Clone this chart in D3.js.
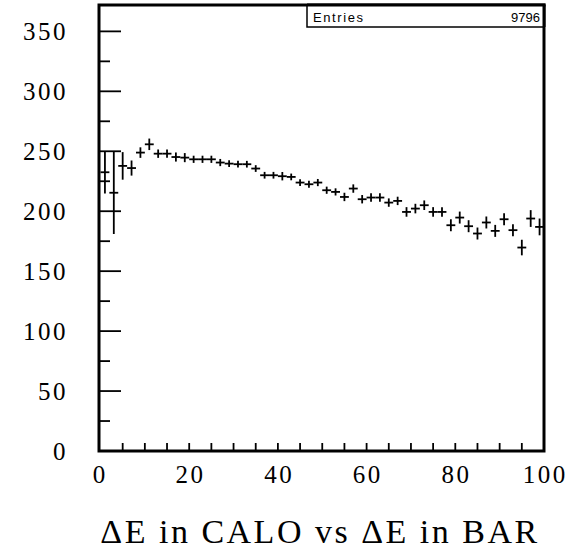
<!DOCTYPE html>
<html>
<head>
<meta charset="utf-8">
<script src="https://cdn.jsdelivr.net/npm/d3@7"></script>
<style>
  html, body { margin: 0; padding: 0; background: #fff; }
  svg { display: block; }
</style>
</head>
<body>
<svg id="chart" width="571" height="555"></svg>
<script>
// Profile of ΔE in CALO vs ΔE in BAR: 50 bins of width 2 over [0, 100]
const binCenters = [1, 3, 5, 7, 9, 11, 13, 15, 17, 19,
  21, 23, 25, 27, 29, 31, 33, 35, 37, 39,
  41, 43, 45, 47, 49, 51, 53, 55, 57, 59,
  61, 63, 65, 67, 69, 71, 73, 75, 77, 79,
  81, 83, 85, 87, 89, 91, 93, 95, 97, 99];
const binWidth = 2;
const meanValues = [232.5, 215.4, 237.8, 236.0, 248.9, 255.8, 248.0, 248.0, 245.2, 244.7,
  243.3, 243.3, 243.3, 240.6, 239.7, 239.2, 239.2, 235.6, 230.0, 230.0,
  229.2, 228.6, 223.9, 222.5, 223.9, 217.5, 216.1, 211.9, 218.9, 210.0,
  211.4, 211.4, 207.2, 208.6, 199.4, 202.2, 205.0, 199.4, 199.4, 188.3,
  194.7, 187.5, 181.4, 190.6, 183.6, 193.3, 184.2, 169.7, 193.9, 186.9];
const errValues = [17.8, 34.4, 11.5, 6.3, 4.4, 4.8, 3.5, 3.5, 3.8, 3.8,
  3.0, 3.0, 3.0, 3.0, 2.8, 2.8, 2.8, 2.8, 2.8, 2.8,
  3.5, 2.8, 2.8, 3.0, 3.0, 3.0, 3.0, 3.5, 3.5, 3.5,
  3.5, 3.5, 3.5, 3.5, 4.0, 4.0, 4.0, 4.0, 4.0, 5.0,
  5.0, 5.0, 5.0, 5.0, 5.0, 5.0, 5.0, 6.5, 7.0, 7.0];
const xTickLabels = [0, 20, 40, 60, 80, 100];
const yTickLabels = [0, 50, 100, 150, 200, 250, 300, 350];
const entriesLabel = "Entries";
const entriesValue = "9796";
const titleText = "ΔE in CALO vs ΔE in BAR";

const svg = d3.select("#chart");
const frame = { left: 99, right: 544, top: 5, bottom: 451 };

const x = d3.scaleLinear().domain([0, 100]).range([100.5, 544]);
const y = d3.scaleLinear().domain([0, 372]).range([frame.bottom, frame.top]);

const serif = "'Liberation Serif', 'Times New Roman', serif";

// Error-bar crosses: horizontal spans the bin, vertical spans mean ± error
const pts = binCenters.map((c, i) => ({ c, m: meanValues[i], e: errValues[i] }));
const g = svg.append("g").attr("stroke", "#000").attr("stroke-width", 1.8);
g.selectAll("line.h").data(pts).join("line").attr("class", "h")
  .attr("x1", d => x(d.c - binWidth / 2)).attr("x2", d => x(d.c + binWidth / 2))
  .attr("y1", d => y(d.m)).attr("y2", d => y(d.m));
g.selectAll("line.v").data(pts).join("line").attr("class", "v")
  .attr("x1", d => x(d.c)).attr("x2", d => x(d.c))
  .attr("y1", d => y(d.m - d.e)).attr("y2", d => y(d.m + d.e));

// Y axis ticks: major every 50, minor every 25
const yt = svg.append("g").attr("stroke", "#000").attr("stroke-width", 1.8);
d3.range(25, 372, 25).forEach(v => {
  const len = v % 50 === 0 ? 22 : 11;
  yt.append("line").attr("x1", frame.left).attr("x2", frame.left + len)
    .attr("y1", y(v)).attr("y2", y(v));
});
// X axis ticks every 5
d3.range(5, 100, 5).forEach(v => {
  yt.append("line").attr("x1", x(v)).attr("x2", x(v))
    .attr("y1", frame.bottom).attr("y2", frame.bottom - 8);
});

// Frame
svg.append("rect")
  .attr("x", frame.left).attr("y", frame.top)
  .attr("width", frame.right - frame.left).attr("height", frame.bottom - frame.top)
  .attr("fill", "none").attr("stroke", "#000").attr("stroke-width", 3);

// Tick labels
svg.append("g").selectAll("text").data(yTickLabels).join("text")
  .attr("x", 68).attr("y", d => y(d) + 8.5)
  .attr("text-anchor", "end")
  .attr("font-family", serif).attr("font-size", 25)
  .attr("letter-spacing", 2.5)
  .text(d => d);
svg.append("g").selectAll("text").data(xTickLabels).join("text")
  .attr("x", d => (d === 0 ? frame.left : d === 100 ? frame.right : x(d)) + 1.25)
  .attr("y", 483)
  .attr("text-anchor", "middle")
  .attr("font-family", serif).attr("font-size", 25)
  .attr("letter-spacing", 2.5)
  .text(d => d);

// Statistics box
const sb = { left: 307, top: 5, right: 544, bottom: 27 };
svg.append("rect").attr("x", sb.left).attr("y", sb.top)
  .attr("width", sb.right - sb.left).attr("height", sb.bottom - sb.top)
  .attr("fill", "#fff").attr("stroke", "#000").attr("stroke-width", 1.5);
svg.append("line").attr("x1", sb.left).attr("x2", sb.right + 1.5)
  .attr("y1", frame.top).attr("y2", frame.top).attr("stroke", "#000").attr("stroke-width", 3);
svg.append("line").attr("x1", sb.right).attr("x2", sb.right)
  .attr("y1", frame.top).attr("y2", sb.bottom).attr("stroke", "#000").attr("stroke-width", 3);
svg.append("text").attr("x", 313).attr("y", 22)
  .attr("font-family", "'Liberation Sans', Arial, sans-serif").attr("font-size", 13)
  .attr("letter-spacing", 1.6)
  .text(entriesLabel);
svg.append("text").attr("x", 540).attr("y", 22).attr("text-anchor", "end")
  .attr("font-family", "'Liberation Sans', Arial, sans-serif").attr("font-size", 13)
  .text(entriesValue);

// Title
svg.append("text").attr("x", 320).attr("y", 543)
  .attr("text-anchor", "middle")
  .attr("font-family", serif).attr("font-size", 34)
  .attr("letter-spacing", 2.5)
  .text(titleText);
</script>
</body>
</html>
